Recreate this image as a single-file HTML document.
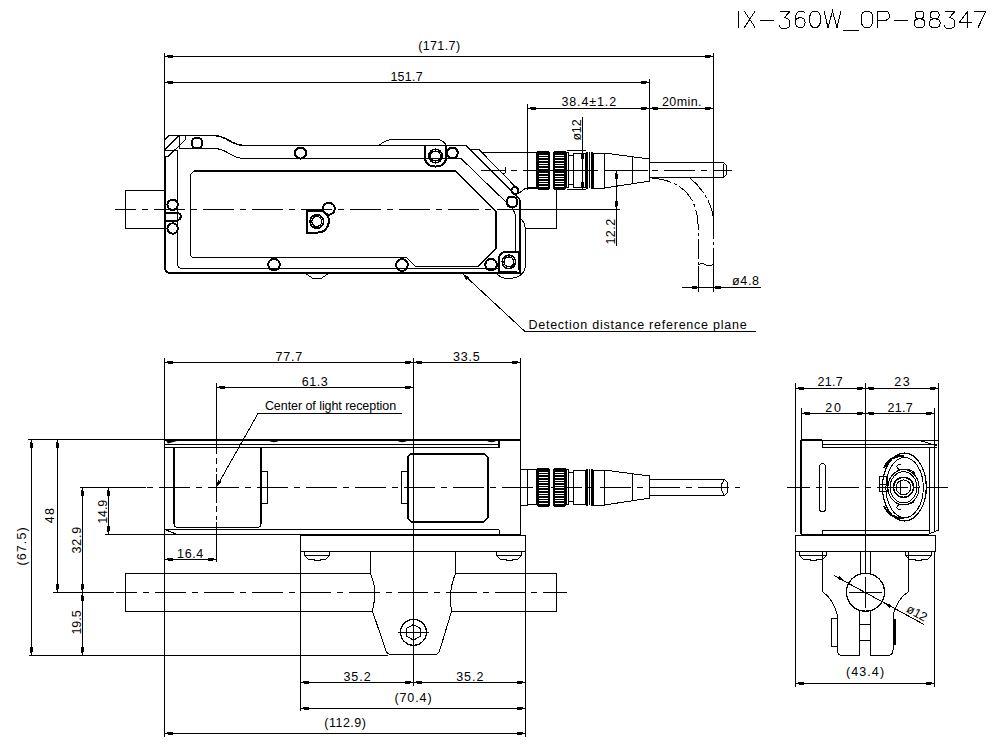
<!DOCTYPE html>
<html><head><meta charset="utf-8"><style>
html,body{margin:0;padding:0;background:#fff;width:1000px;height:748px;overflow:hidden}
svg{display:block}
svg *{fill:none;stroke:#000;shape-rendering:crispEdges}
svg text{fill:#000;stroke:none;font-family:"Liberation Sans",sans-serif}
svg .f{fill:#000;stroke:none}
</style></head><body>
<svg width="1000" height="748" viewBox="0 0 1000 748">
<path d="M0,0 V16" transform="translate(738.5,11) scale(1,1.04)" stroke-width="1" vector-effect="non-scaling-stroke"/>
<path d="M0,0 L11,16" transform="translate(744.2,11) scale(1,1.04)" stroke-width="1" vector-effect="non-scaling-stroke"/>
<path d="M11,0 L0,16" transform="translate(744.2,11) scale(1,1.04)" stroke-width="1" vector-effect="non-scaling-stroke"/>
<path d="M0,9.5 H14" transform="translate(759.8,11) scale(1,1.04)" stroke-width="1" vector-effect="non-scaling-stroke"/>
<path d="M1,0 H11 L5,6.5 Q10.5,6.5 10.5,11.5 V13 Q10.5,16.5 6.5,16.5 H3 Q0,16.5 0,13" transform="translate(779.2,11) scale(1,1.04)" stroke-width="1" vector-effect="non-scaling-stroke"/>
<path d="M10.5,2 Q9,0 6,0 Q0.5,0 0.5,9 Q0.5,16 5.5,16 Q10.5,16 10.5,11 Q10.5,6.5 6,6.5 Q2,6.5 0.5,9.5" transform="translate(794.6,11) scale(1,1.04)" stroke-width="1" vector-effect="non-scaling-stroke"/>
<path d="M5.5,0 Q0,0 0,8 Q0,16 5.5,16 Q11,16 11,8 Q11,0 5.5,0 Z" transform="translate(809.6,11) scale(1,1.04)" stroke-width="1" vector-effect="non-scaling-stroke"/>
<path d="M0,0 L4,16 L8.5,0 L13,16 L17,0" transform="translate(824,11) scale(1,1.04)" stroke-width="1" vector-effect="non-scaling-stroke"/>
<path d="M0,18.5 H15.5" transform="translate(843,11) scale(1,1.04)" stroke-width="1" vector-effect="non-scaling-stroke"/>
<path d="M6,0 Q0,0 0,8 Q0,16 6,16 Q12,16 12,8 Q12,0 6,0 Z" transform="translate(861,11) scale(1,1.04)" stroke-width="1" vector-effect="non-scaling-stroke"/>
<path d="M0,16 V0 H6.5 Q11.5,0 11.5,4.5 Q11.5,9 6.5,9 H0" transform="translate(877.8,11) scale(1,1.04)" stroke-width="1" vector-effect="non-scaling-stroke"/>
<path d="M0,9.5 H14" transform="translate(894.3,11) scale(1,1.04)" stroke-width="1" vector-effect="non-scaling-stroke"/>
<path d="M5.5,7.5 Q1,7.5 1,3.8 Q1,0 5.5,0 Q10,0 10,3.8 Q10,7.5 5.5,7.5 Q0,7.5 0,12 Q0,16 5.5,16 Q11,16 11,12 Q11,7.5 5.5,7.5 Z" transform="translate(914,11) scale(1,1.04)" stroke-width="1" vector-effect="non-scaling-stroke"/>
<path d="M5.5,7.5 Q1,7.5 1,3.8 Q1,0 5.5,0 Q10,0 10,3.8 Q10,7.5 5.5,7.5 Q0,7.5 0,12 Q0,16 5.5,16 Q11,16 11,12 Q11,7.5 5.5,7.5 Z" transform="translate(929.2,11) scale(1,1.04)" stroke-width="1" vector-effect="non-scaling-stroke"/>
<path d="M1,0 H11 L5,6.5 Q10.5,6.5 10.5,11.5 V13 Q10.5,16.5 6.5,16.5 H3 Q0,16.5 0,13" transform="translate(944.2,11) scale(1,1.04)" stroke-width="1" vector-effect="non-scaling-stroke"/>
<path d="M9,16 V0 L0,11.5 H13" transform="translate(958.8,11) scale(1,1.04)" stroke-width="1" vector-effect="non-scaling-stroke"/>
<path d="M0,0 H12 L4,16" transform="translate(974,11) scale(1,1.04)" stroke-width="1" vector-effect="non-scaling-stroke"/>
<line x1="164.5" y1="53" x2="164.5" y2="136" stroke-width="1" />
<line x1="713.5" y1="53" x2="713.5" y2="219" stroke-width="1" />
<line x1="164.5" y1="56.5" x2="713.5" y2="56.5" stroke-width="1" />
<polygon points="166.5,56.0 168.0,55.0 173.0,55.0 173.0,58.0 168.0,58.0" class="f"/>
<polygon points="711.5,56.0 710.0,55.0 705.0,55.0 705.0,58.0 710.0,58.0" class="f"/>
<text x="439.1" y="49.5" font-size="12.5" text-anchor="middle" textLength="41.900000000000006" lengthAdjust="spacing" >(171.7)</text>
<line x1="649.5" y1="79" x2="649.5" y2="172" stroke-width="1" />
<line x1="164.5" y1="82.5" x2="649.5" y2="82.5" stroke-width="1" />
<polygon points="166.5,82.0 168.0,81.0 173.0,81.0 173.0,84.0 168.0,84.0" class="f"/>
<polygon points="647.5,82.0 646.0,81.0 641.0,81.0 641.0,84.0 646.0,84.0" class="f"/>
<text x="406.5" y="80.5" font-size="12.5" text-anchor="middle" textLength="32.2" lengthAdjust="spacing" >151.7</text>
<line x1="527.5" y1="104" x2="527.5" y2="190" stroke-width="1" />
<line x1="527.5" y1="108.5" x2="649.5" y2="108.5" stroke-width="1" />
<polygon points="529.5,108.0 531.0,107.0 536.0,107.0 536.0,110.0 531.0,110.0" class="f"/>
<polygon points="647.5,108.0 646.0,107.0 641.0,107.0 641.0,110.0 646.0,110.0" class="f"/>
<line x1="649.5" y1="108.5" x2="713.5" y2="108.5" stroke-width="1" />
<polygon points="651.5,108.0 653.0,107.0 658.0,107.0 658.0,110.0 653.0,110.0" class="f"/>
<polygon points="711.5,108.0 710.0,107.0 705.0,107.0 705.0,110.0 710.0,110.0" class="f"/>
<text x="588.75" y="105.5" font-size="12.5" text-anchor="middle" textLength="54.7" lengthAdjust="spacing" >38.4±1.2</text>
<text x="681.75" y="105.5" font-size="12.5" text-anchor="middle" textLength="39.7" lengthAdjust="spacing" >20min.</text>
<line x1="164.5" y1="53" x2="164.5" y2="157" stroke-width="1" />
<path d="M165,156 V267.5 Q165,273 171,273 H520 V199.5" stroke-width="2" />
<path d="M164.5,140 L169,135.5 H213 C229,135.5 229,145.5 245,145.5 H466 L520,199.5" stroke-width="1.5" />
<path d="M164.5,150 L178.5,136 M168,156.5 L185.5,139.5 V136 M179.5,135.5 V148.5 M164.5,150.5 H177.5 M164.5,156.5 H168" stroke-width="1" />
<path d="M179.5,148.5 H214 C229,148.5 229,158.5 245,158.5 H461 L509,205 Q515.5,211 515.5,218 V252" stroke-width="1" />
<path d="M177.5,150.5 V263 Q177.5,268.5 183,268.5 H499" stroke-width="1" />
<path d="M455.5,171 L496,211.5 V248.5 L478.5,266" stroke-width="2" />
<path d="M194,171 H455.5" stroke-width="2" />
<path d="M194,171 L190.5,174.5 V254 Q190.5,257.5 194,257.5 H406.5 L415.5,266.5 H479" stroke-width="1" />
<path d="M379,145.5 Q385,139.5 394,139.5 H436 Q443,139.5 446,145" stroke-width="1" />
<path d="M304.8,273 L313,278.5 H321 L329.4,273" stroke-width="1" />
<path d="M520,218 Q525.5,222 525.5,232 V264 Q525.5,278.5 507,278.5 Q502,278.5 497,274" stroke-width="1" />
<circle cx="197" cy="143" r="5.5" stroke-width="2" />
<circle cx="300.5" cy="153" r="5.5" stroke-width="2" />
<circle cx="452.3" cy="153" r="5.5" stroke-width="2" />
<circle cx="512" cy="202" r="5.5" stroke-width="2" />
<circle cx="515" cy="190.5" r="3.5" stroke-width="2" />
<circle cx="491.1" cy="264.6" r="5.8" stroke-width="2" />
<circle cx="274" cy="264.6" r="5.8" stroke-width="2" />
<circle cx="402" cy="265" r="5.8" stroke-width="2" />
<circle cx="172.6" cy="204.8" r="5.2" stroke-width="2" />
<circle cx="172.6" cy="228.5" r="5.2" stroke-width="2" />
<circle cx="328.8" cy="208.7" r="6" stroke-width="2" />
<path d="M425,145.5 V157 Q425,166.5 435.5,166.5 Q446,166.5 446,157 V145.5" stroke-width="2" />
<circle cx="435.5" cy="156" r="6.8" stroke-width="1.6" />
<circle cx="435.5" cy="156" r="5" stroke-width="1.3" />
<path d="M498.5,273 V261 Q498.5,251.5 508,251.5 H520" stroke-width="2" />
<line x1="518.5" y1="253" x2="518.5" y2="270" stroke-width="1" />
<line x1="500" y1="271" x2="517" y2="271" stroke-width="1" />
<circle cx="508.9" cy="261.9" r="6.7" stroke-width="1.6" />
<circle cx="508.9" cy="261.9" r="5" stroke-width="1.3" />
<path d="M306.5,232.5 V210.5 H322 Q329,214 329,222 Q327,232.5 318,232.5 Z" stroke-width="2" />
<circle cx="316.8" cy="221.5" r="6.8" stroke-width="1.6" />
<circle cx="316.8" cy="221.5" r="5" stroke-width="1.3" />
<path d="M165.5,212.5 H177 Q181,214 181,216.5 Q181,219 177,220.5 H165.5" stroke-width="2" />
<path d="M165,190.5 H125.5 V228.5 H165" stroke-width="1" />
<line x1="115" y1="209.5" x2="521" y2="209.5" stroke-width="1" stroke-dasharray="31 6 6 6" stroke-dashoffset="10"/>
<line x1="521" y1="209.5" x2="620" y2="209.5" stroke-width="1" />
<path d="M505.7,166.5 V172 Q505.5,173.5 503,173" stroke-width="1" />
<path d="M470.5,149.5 H479 L518.5,190" stroke-width="1" />
<path d="M470.5,149.5 L511,190" stroke-width="1" />
<path d="M483,152.5 H537" stroke-width="1" />
<path d="M518,194 L526,188 H537" stroke-width="1" />
<path d="M526,228.5 H556.5 V190" stroke-width="1" />
<rect x="527.5" y="152.8" width="9" height="35" stroke-width="1" />
<rect x="537" y="150.8" width="12.6" height="39" rx="1.5" class="f"/>
<rect x="538.5" y="154.8" width="9.5" height="1" style="fill:#fff;stroke:none"/>
<rect x="538.5" y="157.4" width="9.5" height="1" style="fill:#fff;stroke:none"/>
<rect x="538.5" y="160.0" width="9.5" height="1" style="fill:#fff;stroke:none"/>
<rect x="538.5" y="162.60000000000002" width="9.5" height="1" style="fill:#fff;stroke:none"/>
<rect x="538.5" y="165.20000000000002" width="9.5" height="1" style="fill:#fff;stroke:none"/>
<rect x="538.5" y="167.8" width="9.5" height="1" style="fill:#fff;stroke:none"/>
<rect x="538.5" y="170.4" width="9.5" height="1" style="fill:#fff;stroke:none"/>
<rect x="538.5" y="173.0" width="9.5" height="1" style="fill:#fff;stroke:none"/>
<rect x="538.5" y="175.60000000000002" width="9.5" height="1" style="fill:#fff;stroke:none"/>
<rect x="538.5" y="178.20000000000002" width="9.5" height="1" style="fill:#fff;stroke:none"/>
<rect x="538.5" y="180.8" width="9.5" height="1" style="fill:#fff;stroke:none"/>
<rect x="538.5" y="183.4" width="9.5" height="1" style="fill:#fff;stroke:none"/>
<rect x="538.5" y="186.0" width="9.5" height="1" style="fill:#fff;stroke:none"/>
<rect x="553.4" y="150.8" width="12.6" height="39" rx="1.5" class="f"/>
<rect x="554.9" y="154.8" width="9.5" height="1" style="fill:#fff;stroke:none"/>
<rect x="554.9" y="157.4" width="9.5" height="1" style="fill:#fff;stroke:none"/>
<rect x="554.9" y="160.0" width="9.5" height="1" style="fill:#fff;stroke:none"/>
<rect x="554.9" y="162.60000000000002" width="9.5" height="1" style="fill:#fff;stroke:none"/>
<rect x="554.9" y="165.20000000000002" width="9.5" height="1" style="fill:#fff;stroke:none"/>
<rect x="554.9" y="167.8" width="9.5" height="1" style="fill:#fff;stroke:none"/>
<rect x="554.9" y="170.4" width="9.5" height="1" style="fill:#fff;stroke:none"/>
<rect x="554.9" y="173.0" width="9.5" height="1" style="fill:#fff;stroke:none"/>
<rect x="554.9" y="175.60000000000002" width="9.5" height="1" style="fill:#fff;stroke:none"/>
<rect x="554.9" y="178.20000000000002" width="9.5" height="1" style="fill:#fff;stroke:none"/>
<rect x="554.9" y="180.8" width="9.5" height="1" style="fill:#fff;stroke:none"/>
<rect x="554.9" y="183.4" width="9.5" height="1" style="fill:#fff;stroke:none"/>
<rect x="554.9" y="186.0" width="9.5" height="1" style="fill:#fff;stroke:none"/>
<rect x="566" y="152.3" width="2.6" height="35.3" stroke-width="1" />
<rect x="568.6" y="155.0" width="4.8" height="29.5" stroke-width="1" />
<rect x="573.4" y="153.3" width="12.1" height="34.2" stroke-width="1" />
<rect x="586" y="151.8" width="2" height="37" class="f"/>
<rect x="591" y="151.8" width="2" height="37" class="f"/>
<rect x="589" y="152.3" width="1" height="36" class="f"/>
<rect x="593.7" y="153.0" width="10.6" height="35" stroke-width="1" />
<path d="M604.3,153.0 L649.4,159.0 V181.20000000000002 L604.3,188.0" stroke-width="1" />
<line x1="632.6" y1="156.8" x2="632.6" y2="183.8" stroke-width="1" />
<line x1="567" y1="150.5" x2="586" y2="150.5" stroke-width="1" />
<line x1="567" y1="189.5" x2="586" y2="189.5" stroke-width="1" />
<line x1="582.5" y1="117" x2="582.5" y2="189.5" stroke-width="1" />
<polygon points="582.0,152 581.0,153.5 581.0,158.5 584.0,158.5 584.0,153.5" class="f"/>
<polygon points="582.0,188 581.0,186.5 581.0,181.5 584.0,181.5 584.0,186.5" class="f"/>
<text x="0" y="0" font-size="12.5" text-anchor="middle" textLength="21.2" lengthAdjust="spacing" transform="translate(580.5,130) rotate(-90)" >ø12</text>
<path d="M649,162.5 H723 Q727,164 727,170 Q727,176 723,177.8 H649" stroke-width="1" />
<line x1="723" y1="164" x2="723" y2="177" stroke-width="1" />
<line x1="481" y1="170.5" x2="527" y2="170.5" stroke-width="1" stroke-dasharray="24 6 6 6" stroke-dashoffset="0"/>
<line x1="527" y1="170.5" x2="598" y2="170.5" stroke-width="1" />
<line x1="604" y1="170.5" x2="648" y2="170.5" stroke-width="1" />
<line x1="651.7" y1="170.5" x2="732" y2="170.5" stroke-width="1" stroke-dasharray="31 6 6 6" stroke-dashoffset="37"/>
<path d="M652,178 Q696,182 698,224 V266" stroke-width="1" stroke-dasharray="20 3 3 3"/>
<path d="M690,177.8 Q704,190 710,205 Q713,212 713.5,219" stroke-width="1" stroke-dasharray="20 3 3 3"/>
<line x1="713.5" y1="219" x2="713.5" y2="266" stroke-width="1" stroke-dasharray="20 3 3 3"/>
<path d="M698,265 Q702,262 705,264.5 Q709,267 713.5,264.5" stroke-width="1" />
<line x1="616.5" y1="170.5" x2="616.5" y2="209.5" stroke-width="1" />
<polygon points="616.0,172.5 615.0,174.0 615.0,179.0 618.0,179.0 618.0,174.0" class="f"/>
<polygon points="616.0,207.5 615.0,206.0 615.0,201.0 618.0,201.0 618.0,206.0" class="f"/>
<line x1="616.5" y1="209.5" x2="616.5" y2="246" stroke-width="1" />
<text x="0" y="0" font-size="12.5" text-anchor="middle" textLength="25.7" lengthAdjust="spacing" transform="translate(614.8,231.75) rotate(-90)" >12.2</text>
<line x1="682" y1="287.5" x2="761" y2="287.5" stroke-width="1" />
<line x1="698.5" y1="266" x2="698.5" y2="292" stroke-width="1" />
<line x1="713.5" y1="266" x2="713.5" y2="292" stroke-width="1" />
<polygon points="698,287.0 696.5,286.0 691.5,286.0 691.5,289.0 696.5,289.0" class="f"/>
<polygon points="714,287.0 715.5,286.0 720.5,286.0 720.5,289.0 715.5,289.0" class="f"/>
<text x="745.5" y="285" font-size="12.5" text-anchor="middle" textLength="27.0" lengthAdjust="spacing" >ø4.8</text>
<path d="M462.5,273.5 L525,331.5 H756" stroke-width="1" />
<polygon points="462.5,273.5 466,280 469,277" class="f"/>
<text x="637.5" y="329" font-size="12.5" text-anchor="middle" textLength="218.2" lengthAdjust="spacing" >Detection distance reference plane</text>
<line x1="164.5" y1="358" x2="164.5" y2="737" stroke-width="1" />
<line x1="520.5" y1="358" x2="520.5" y2="440" stroke-width="1" />
<line x1="413.5" y1="358" x2="413.5" y2="686" stroke-width="1" />
<line x1="164.5" y1="362.5" x2="413.5" y2="362.5" stroke-width="1" />
<polygon points="166.5,362.0 168.0,361.0 173.0,361.0 173.0,364.0 168.0,364.0" class="f"/>
<polygon points="411.5,362.0 410.0,361.0 405.0,361.0 405.0,364.0 410.0,364.0" class="f"/>
<line x1="413.5" y1="362.5" x2="520.5" y2="362.5" stroke-width="1" />
<polygon points="415.5,362.0 417.0,361.0 422.0,361.0 422.0,364.0 417.0,364.0" class="f"/>
<polygon points="518.5,362.0 517.0,361.0 512.0,361.0 512.0,364.0 517.0,364.0" class="f"/>
<text x="288.75" y="360.5" font-size="12.5" text-anchor="middle" textLength="26.7" lengthAdjust="spacing" >77.7</text>
<text x="466.25" y="360.5" font-size="12.5" text-anchor="middle" textLength="26.7" lengthAdjust="spacing" >33.5</text>
<line x1="216.5" y1="383" x2="216.5" y2="454" stroke-width="1" />
<line x1="216.5" y1="458" x2="216.5" y2="472" stroke-width="1" stroke-dasharray="6 3.5" stroke-dashoffset="0"/>
<line x1="216.5" y1="474" x2="216.5" y2="503" stroke-width="1" />
<line x1="216.5" y1="506" x2="216.5" y2="520" stroke-width="1" stroke-dasharray="6 3.5" stroke-dashoffset="0"/>
<line x1="216.5" y1="522" x2="216.5" y2="562" stroke-width="1" />
<line x1="216.5" y1="387.5" x2="413.5" y2="387.5" stroke-width="1" />
<polygon points="218.5,387.0 220.0,386.0 225.0,386.0 225.0,389.0 220.0,389.0" class="f"/>
<polygon points="411.5,387.0 410.0,386.0 405.0,386.0 405.0,389.0 410.0,389.0" class="f"/>
<text x="314.7" y="386" font-size="12.5" text-anchor="middle" textLength="25.8" lengthAdjust="spacing" >61.3</text>
<path d="M216.5,487 L258,413.5 H402" stroke-width="1" />
<polygon points="216.5,487.5 218,480 221.5,482" class="f"/>
<text x="330.5" y="409.5" font-size="12.5" text-anchor="middle" textLength="131.2" lengthAdjust="spacing" >Center of light reception</text>
<rect x="164.5" y="439.5" width="356" height="95" stroke-width="1" />
<line x1="164.5" y1="440" x2="520.5" y2="440" stroke-width="2" />
<line x1="164.5" y1="444.5" x2="499" y2="444.5" stroke-width="1" />
<line x1="164.5" y1="447.5" x2="499" y2="447.5" stroke-width="1" />
<line x1="499" y1="440" x2="499" y2="448" stroke-width="2" />
<line x1="164.5" y1="529.5" x2="499" y2="529.5" stroke-width="1" />
<line x1="499.5" y1="529.5" x2="499.5" y2="535" stroke-width="1" />
<polygon points="165.5,440 177,440 177,441 168,443.5" class="f" style="shape-rendering:geometricPrecision"/>
<path d="M166,530 L176,534" stroke-width="1" />
<path d="M268,440 Q274,444.5 280,440 Z" class="f" style="shape-rendering:geometricPrecision"/>
<path d="M396.3,440 Q402.3,444.5 408.3,440 Z" class="f" style="shape-rendering:geometricPrecision"/>
<path d="M485.5,440 Q491.5,444.5 497.5,440 Z" class="f" style="shape-rendering:geometricPrecision"/>
<path d="M174,448 V524 M261,524 V448" stroke-width="2" />
<path d="M174,524 Q174,527.5 178,527.5 H257 Q261,527.5 261,524" stroke-width="1" />
<path d="M261,471.5 H267.5 V503 H261" stroke-width="1" />
<path d="M411,453.5 H484 L487.5,457 V518 L484,521.5 H411 L407.5,518 V457 Z" stroke-width="2" />
<path d="M407.5,471.5 H401.5 V503 H407.5" stroke-width="1" />
<line x1="146" y1="487.5" x2="740" y2="487.5" stroke-width="1" stroke-dasharray="31 6 6 6" stroke-dashoffset="36.5"/>
<rect x="520.5" y="469.3" width="7" height="36.5" stroke-width="1" />
<rect x="527.5" y="469.8" width="9" height="35" stroke-width="1" />
<rect x="537" y="467.8" width="12.6" height="39" rx="1.5" class="f"/>
<rect x="538.5" y="471.8" width="9.5" height="1" style="fill:#fff;stroke:none"/>
<rect x="538.5" y="474.40000000000003" width="9.5" height="1" style="fill:#fff;stroke:none"/>
<rect x="538.5" y="477.0" width="9.5" height="1" style="fill:#fff;stroke:none"/>
<rect x="538.5" y="479.6" width="9.5" height="1" style="fill:#fff;stroke:none"/>
<rect x="538.5" y="482.2" width="9.5" height="1" style="fill:#fff;stroke:none"/>
<rect x="538.5" y="484.8" width="9.5" height="1" style="fill:#fff;stroke:none"/>
<rect x="538.5" y="487.40000000000003" width="9.5" height="1" style="fill:#fff;stroke:none"/>
<rect x="538.5" y="490.0" width="9.5" height="1" style="fill:#fff;stroke:none"/>
<rect x="538.5" y="492.6" width="9.5" height="1" style="fill:#fff;stroke:none"/>
<rect x="538.5" y="495.2" width="9.5" height="1" style="fill:#fff;stroke:none"/>
<rect x="538.5" y="497.8" width="9.5" height="1" style="fill:#fff;stroke:none"/>
<rect x="538.5" y="500.40000000000003" width="9.5" height="1" style="fill:#fff;stroke:none"/>
<rect x="538.5" y="503.0" width="9.5" height="1" style="fill:#fff;stroke:none"/>
<rect x="553.4" y="467.8" width="12.6" height="39" rx="1.5" class="f"/>
<rect x="554.9" y="471.8" width="9.5" height="1" style="fill:#fff;stroke:none"/>
<rect x="554.9" y="474.40000000000003" width="9.5" height="1" style="fill:#fff;stroke:none"/>
<rect x="554.9" y="477.0" width="9.5" height="1" style="fill:#fff;stroke:none"/>
<rect x="554.9" y="479.6" width="9.5" height="1" style="fill:#fff;stroke:none"/>
<rect x="554.9" y="482.2" width="9.5" height="1" style="fill:#fff;stroke:none"/>
<rect x="554.9" y="484.8" width="9.5" height="1" style="fill:#fff;stroke:none"/>
<rect x="554.9" y="487.40000000000003" width="9.5" height="1" style="fill:#fff;stroke:none"/>
<rect x="554.9" y="490.0" width="9.5" height="1" style="fill:#fff;stroke:none"/>
<rect x="554.9" y="492.6" width="9.5" height="1" style="fill:#fff;stroke:none"/>
<rect x="554.9" y="495.2" width="9.5" height="1" style="fill:#fff;stroke:none"/>
<rect x="554.9" y="497.8" width="9.5" height="1" style="fill:#fff;stroke:none"/>
<rect x="554.9" y="500.40000000000003" width="9.5" height="1" style="fill:#fff;stroke:none"/>
<rect x="554.9" y="503.0" width="9.5" height="1" style="fill:#fff;stroke:none"/>
<rect x="566" y="469.3" width="2.6" height="35.3" stroke-width="1" />
<rect x="568.6" y="472.0" width="4.8" height="29.5" stroke-width="1" />
<rect x="573.4" y="470.3" width="12.1" height="34.2" stroke-width="1" />
<rect x="586" y="468.8" width="2" height="37" class="f"/>
<rect x="591" y="468.8" width="2" height="37" class="f"/>
<rect x="589" y="469.3" width="1" height="36" class="f"/>
<rect x="593.7" y="470.0" width="10.6" height="35" stroke-width="1" />
<path d="M604.3,470.0 L649.4,476.0 V498.2 L604.3,505.0" stroke-width="1" />
<line x1="632.6" y1="473.8" x2="632.6" y2="500.8" stroke-width="1" />
<path d="M649.4,479.5 H724 Q728,481 728,487.3 Q728,494 724,495.5 H649.4" stroke-width="1" />
<path d="M724,480.5 Q721,484 721,487.3 Q721,491 724,494.5" stroke-width="1" />
<line x1="28" y1="439.5" x2="164.5" y2="439.5" stroke-width="1" />
<line x1="79.5" y1="487.5" x2="146" y2="487.5" stroke-width="1" />
<line x1="105" y1="534.5" x2="164.5" y2="534.5" stroke-width="1" />
<line x1="53" y1="592.5" x2="113.5" y2="592.5" stroke-width="1" />
<line x1="29" y1="655.5" x2="388" y2="655.5" stroke-width="1" />
<line x1="31.5" y1="439.5" x2="31.5" y2="655.5" stroke-width="1" />
<polygon points="31.0,441.5 30.0,443.0 30.0,448.0 33.0,448.0 33.0,443.0" class="f"/>
<polygon points="31.0,653.5 30.0,652.0 30.0,647.0 33.0,647.0 33.0,652.0" class="f"/>
<line x1="57.5" y1="439.5" x2="57.5" y2="592.5" stroke-width="1" />
<polygon points="57.0,441.5 56.0,443.0 56.0,448.0 59.0,448.0 59.0,443.0" class="f"/>
<polygon points="57.0,590.5 56.0,589.0 56.0,584.0 59.0,584.0 59.0,589.0" class="f"/>
<line x1="82.5" y1="487.5" x2="82.5" y2="592.5" stroke-width="1" />
<polygon points="82.0,489.5 81.0,491.0 81.0,496.0 84.0,496.0 84.0,491.0" class="f"/>
<polygon points="82.0,590.5 81.0,589.0 81.0,584.0 84.0,584.0 84.0,589.0" class="f"/>
<line x1="82.5" y1="592.5" x2="82.5" y2="655.5" stroke-width="1" />
<polygon points="82.0,594.5 81.0,596.0 81.0,601.0 84.0,601.0 84.0,596.0" class="f"/>
<polygon points="82.0,653.5 81.0,652.0 81.0,647.0 84.0,647.0 84.0,652.0" class="f"/>
<line x1="108.5" y1="487.5" x2="108.5" y2="534.5" stroke-width="1" />
<polygon points="108.0,489.5 107.0,491.0 107.0,496.0 110.0,496.0 110.0,491.0" class="f"/>
<polygon points="108.0,532.5 107.0,531.0 107.0,526.0 110.0,526.0 110.0,531.0" class="f"/>
<text x="0" y="0" font-size="12.5" text-anchor="middle" textLength="38.0" lengthAdjust="spacing" transform="translate(25.8,546.4) rotate(-90)" >(67.5)</text>
<text x="0" y="0" font-size="12.5" text-anchor="middle" textLength="15.2" lengthAdjust="spacing" transform="translate(54.4,515.6) rotate(-90)" >48</text>
<text x="0" y="0" font-size="12.5" text-anchor="middle" textLength="26.5" lengthAdjust="spacing" transform="translate(81,540.15) rotate(-90)" >32.9</text>
<text x="0" y="0" font-size="12.5" text-anchor="middle" textLength="23.9" lengthAdjust="spacing" transform="translate(106.7,511.75) rotate(-90)" >14.9</text>
<text x="0" y="0" font-size="12.5" text-anchor="middle" textLength="24.2" lengthAdjust="spacing" transform="translate(81,622.5) rotate(-90)" >19.5</text>
<line x1="164.5" y1="559.5" x2="216.5" y2="559.5" stroke-width="1" />
<polygon points="166.5,559.0 168.0,558.0 173.0,558.0 173.0,561.0 168.0,561.0" class="f"/>
<polygon points="214.5,559.0 213.0,558.0 208.0,558.0 208.0,561.0 213.0,561.0" class="f"/>
<text x="190.2" y="557.5" font-size="12.5" text-anchor="middle" textLength="26.2" lengthAdjust="spacing" >16.4</text>
<rect x="300.5" y="535" width="225" height="16.3" stroke-width="1" />
<path d="M304.5,551.5 V555.5 H329.5 V551.5 M304.5,555.5 L308.5,559.5 H314.0 V560.5 H320.0 V559.5 H325.5 L329.5,555.5" stroke-width="1" />
<path d="M496.5,551.5 V555.5 H521.5 V551.5 M496.5,555.5 L500.5,559.5 H506.0 V560.5 H512.0 V559.5 H517.5 L521.5,555.5" stroke-width="1" />
<line x1="300.5" y1="551" x2="300.5" y2="711" stroke-width="1" />
<line x1="525.5" y1="551" x2="525.5" y2="737" stroke-width="1" />
<path d="M370.5,573.5 H125.5 V611 H371.5" stroke-width="1" />
<path d="M455.5,573.5 H556.5 V611 H452" stroke-width="1" />
<line x1="115.5" y1="592.5" x2="567" y2="592.5" stroke-width="1" stroke-dasharray="30.5 6 6 6" stroke-dashoffset="8.8"/>
<path d="M370.5,551.5 V573.3 Q375,585 375,595 Q374,604 372.5,611.2 L386,651 Q388,654.5 391,654.5 H435 Q438,654.5 439.5,651 L451.6,611.2 Q450,603 450.5,595 Q451,585 455.5,573.3 V551.5" stroke-width="1" />
<circle cx="413.5" cy="632.3" r="13" stroke-width="1.3" />
<path d="M413.5,624.5 L420.3,628.4 V636.2 L413.5,640.1 L406.7,636.2 V628.4 Z" stroke-width="1" />
<line x1="398" y1="632.3" x2="429" y2="632.3" stroke-width="1" />
<line x1="300.5" y1="682.5" x2="413.5" y2="682.5" stroke-width="1" />
<polygon points="302.5,682.0 304.0,681.0 309.0,681.0 309.0,684.0 304.0,684.0" class="f"/>
<polygon points="411.5,682.0 410.0,681.0 405.0,681.0 405.0,684.0 410.0,684.0" class="f"/>
<line x1="413.5" y1="682.5" x2="525.5" y2="682.5" stroke-width="1" />
<polygon points="415.5,682.0 417.0,681.0 422.0,681.0 422.0,684.0 417.0,684.0" class="f"/>
<polygon points="523.5,682.0 522.0,681.0 517.0,681.0 517.0,684.0 522.0,684.0" class="f"/>
<text x="357" y="681" font-size="12.5" text-anchor="middle" textLength="27.2" lengthAdjust="spacing" >35.2</text>
<text x="469.75" y="681" font-size="12.5" text-anchor="middle" textLength="27.2" lengthAdjust="spacing" >35.2</text>
<line x1="300.5" y1="708.5" x2="525.5" y2="708.5" stroke-width="1" />
<polygon points="302.5,708.0 304.0,707.0 309.0,707.0 309.0,710.0 304.0,710.0" class="f"/>
<polygon points="523.5,708.0 522.0,707.0 517.0,707.0 517.0,710.0 522.0,710.0" class="f"/>
<text x="413" y="701.5" font-size="12.5" text-anchor="middle" textLength="37.2" lengthAdjust="spacing" >(70.4)</text>
<line x1="164.5" y1="733.5" x2="525.5" y2="733.5" stroke-width="1" />
<polygon points="166.5,733.0 168.0,732.0 173.0,732.0 173.0,735.0 168.0,735.0" class="f"/>
<polygon points="523.5,733.0 522.0,732.0 517.0,732.0 517.0,735.0 522.0,735.0" class="f"/>
<text x="345.1" y="726.5" font-size="12.5" text-anchor="middle" textLength="41.800000000000004" lengthAdjust="spacing" >(112.9)</text>
<line x1="795.5" y1="383" x2="795.5" y2="532" stroke-width="1" />
<line x1="938.5" y1="383" x2="938.5" y2="440" stroke-width="1" />
<line x1="865.5" y1="383" x2="865.5" y2="574" stroke-width="1" />
<line x1="801.5" y1="408" x2="801.5" y2="440" stroke-width="1" />
<line x1="934.5" y1="408" x2="934.5" y2="440" stroke-width="1" />
<line x1="795.5" y1="388.5" x2="865.5" y2="388.5" stroke-width="1" />
<polygon points="797.5,388.0 799.0,387.0 804.0,387.0 804.0,390.0 799.0,390.0" class="f"/>
<polygon points="863.5,388.0 862.0,387.0 857.0,387.0 857.0,390.0 862.0,390.0" class="f"/>
<line x1="865.5" y1="388.5" x2="938.5" y2="388.5" stroke-width="1" />
<polygon points="867.5,388.0 869.0,387.0 874.0,387.0 874.0,390.0 869.0,390.0" class="f"/>
<polygon points="936.5,388.0 935.0,387.0 930.0,387.0 930.0,390.0 935.0,390.0" class="f"/>
<line x1="801.5" y1="413.5" x2="865.5" y2="413.5" stroke-width="1" />
<polygon points="803.5,413.0 805.0,412.0 810.0,412.0 810.0,415.0 805.0,415.0" class="f"/>
<polygon points="863.5,413.0 862.0,412.0 857.0,412.0 857.0,415.0 862.0,415.0" class="f"/>
<line x1="865.5" y1="413.5" x2="934.5" y2="413.5" stroke-width="1" />
<polygon points="867.5,413.0 869.0,412.0 874.0,412.0 874.0,415.0 869.0,415.0" class="f"/>
<polygon points="932.5,413.0 931.0,412.0 926.0,412.0 926.0,415.0 931.0,415.0" class="f"/>
<text x="830" y="385.5" font-size="12.5" text-anchor="middle" textLength="25.2" lengthAdjust="spacing" >21.7</text>
<text x="901.9" y="385.5" font-size="12.5" text-anchor="middle" textLength="15.5" lengthAdjust="spacing" >23</text>
<text x="833" y="411.5" font-size="12.5" text-anchor="middle" textLength="15.7" lengthAdjust="spacing" >20</text>
<text x="900" y="411.5" font-size="12.5" text-anchor="middle" textLength="25.2" lengthAdjust="spacing" >21.7</text>
<path d="M801.5,440 H938.5 V530 L929,534 H801.5 Z" stroke-width="1" />
<line x1="801" y1="440" x2="801" y2="534" stroke-width="2" />
<line x1="801" y1="440" x2="822" y2="440" stroke-width="2" />
<line x1="822" y1="444.5" x2="937" y2="444.5" stroke-width="1" />
<line x1="822" y1="447.5" x2="937" y2="447.5" stroke-width="1" />
<line x1="822" y1="440" x2="822" y2="447.5" stroke-width="1" />
<line x1="822" y1="530" x2="929" y2="530" stroke-width="1" />
<line x1="822" y1="530" x2="822" y2="534" stroke-width="1" />
<line x1="929" y1="447.5" x2="929" y2="534" stroke-width="1" />
<line x1="934.5" y1="440" x2="934.5" y2="532" stroke-width="1" />
<path d="M920,440.5 L937,446" stroke-width="1" />
<rect x="819.5" y="463.5" width="6" height="48" stroke-width="1" rx="3"/>
<line x1="787" y1="487.5" x2="948" y2="487.5" stroke-width="1" stroke-dasharray="31 6 6 6" stroke-dashoffset="8"/>
<ellipse cx="904.4" cy="487" rx="21.9" ry="34" stroke-width="1.2"/>
<ellipse cx="904.6" cy="487.6" rx="18.7" ry="30.1" stroke-width="1"/>
<path d="M884,468 Q890,455 904,456 M884,506 Q890,519 904,518" stroke-width="2" />
<path d="M901,464 Q893,466 900,470 Q912,468 915,474 M901,510 Q893,508 900,504 Q912,506 915,500" stroke-width="1" />
<ellipse cx="903.5" cy="487.3" rx="15.6" ry="17.6" stroke-width="1"/>
<ellipse cx="903.5" cy="487.3" rx="13.4" ry="15.6" stroke-width="1"/>
<circle cx="903.5" cy="487.3" r="10" stroke-width="1.5" />
<circle cx="903.5" cy="487.3" r="7.4" stroke-width="1" />
<line x1="900" y1="480" x2="900" y2="494" stroke-width="1" />
<rect x="879.7" y="476.3" width="7.3" height="15.3" stroke-width="1" />
<line x1="879.7" y1="484" x2="887" y2="484" stroke-width="1" />
<rect x="795.5" y="535" width="139.5" height="16.3" stroke-width="1" />
<path d="M799.5,551.5 V555.5 H826.5 V551.5 M799.5,555.5 L803.5,559.5 H810.0 V560.5 H816.0 V559.5 H822.5 L826.5,555.5" stroke-width="1" />
<path d="M905.5,551.5 V555.5 H931.5 V551.5 M905.5,555.5 L909.5,559.5 H915.5 V560.5 H921.5 V559.5 H927.5 L931.5,555.5" stroke-width="1" />
<line x1="795.5" y1="551" x2="795.5" y2="687" stroke-width="1" />
<line x1="934.5" y1="551" x2="934.5" y2="687" stroke-width="1" />
<path d="M822.5,551.5 V591.5 Q834,600 837.5,616 V650 Q837.5,655.3 842,655.3 H859.5 V610 M870.5,610 V655.3 H888 Q893,655.3 893,650 V616 Q896,600 908.5,591.5 V551.5" stroke-width="1" />
<path d="M860,551.5 V573 M870.5,551.5 V573" stroke-width="1" />
<line x1="860" y1="624" x2="870.5" y2="624" stroke-width="1" />
<line x1="860" y1="640" x2="870.5" y2="640" stroke-width="1" />
<rect x="831.5" y="618.7" width="6" height="27.7" stroke-width="1" />
<rect x="893" y="619" width="2.5" height="26" class="f"/>
<circle cx="865.5" cy="592.2" r="19" stroke-width="1.3" />
<line x1="849" y1="592.2" x2="882" y2="592.2" stroke-width="1" />
<line x1="865.5" y1="577" x2="865.5" y2="608" stroke-width="1" />
<line x1="834" y1="575.5" x2="924" y2="624.5" stroke-width="1" />
<polygon points="846,582 838,579 839,576" class="f"/>
<polygon points="883,602 891,605 890,608" class="f"/>
<text x="0" y="0" font-size="12.5" text-anchor="start" transform="translate(905.5,611.5) rotate(28.6)">ø12</text>
<line x1="795.5" y1="683.5" x2="934.5" y2="683.5" stroke-width="1" />
<polygon points="797.5,683.0 799.0,682.0 804.0,682.0 804.0,685.0 799.0,685.0" class="f"/>
<polygon points="932.5,683.0 931.0,682.0 926.0,682.0 926.0,685.0 931.0,685.0" class="f"/>
<text x="865" y="676" font-size="12.5" text-anchor="middle" textLength="38.2" lengthAdjust="spacing" >(43.4)</text>
</svg></body></html>
